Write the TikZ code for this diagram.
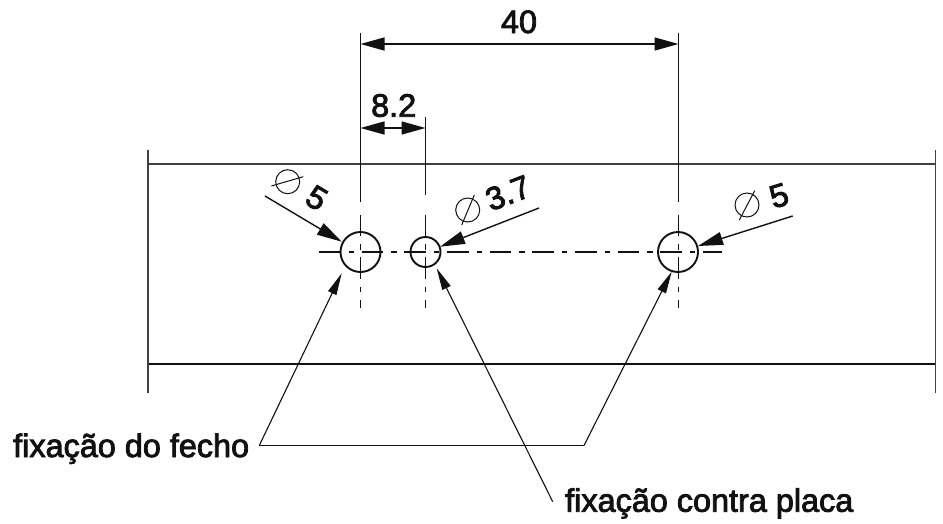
\documentclass[tikz,border=0pt]{standalone}
\usepackage{fontspec}
\setmainfont[FakeBold=2.6]{Liberation Sans}
\usetikzlibrary{arrows.meta}
\definecolor{ink}{HTML}{111111}
\tikzset{
  outline/.style={line width=1.8pt,draw=ink!80},
  thin line/.style={line width=1.4pt,draw=ink},
  hole/.style={circle,draw=ink,line width=1.9pt,inner sep=0pt},
  dia/.style={circle,draw=ink,line width=1pt,inner sep=0pt,minimum size=24pt},
  dial/.style={line width=1pt,draw=ink},
  center line/.style={line width=1.3pt,draw=ink,dash pattern=on 21.5pt off 8pt on 5.5pt off 7.67pt},
  heavy/.style={thin line,-{Triangle[length=25pt,width=13pt]}},
  heavyboth/.style={thin line,{Triangle[length=24pt,width=13pt]}-{Triangle[length=24pt,width=13pt]}},
  slim/.style={line width=1.1pt,draw=ink,-{Triangle[length=22pt,width=9pt]}},
  label/.style={inner sep=0pt,text=ink,font=\fontsize{32.4}{32.4}\selectfont},
}
\begin{document}
\begin{tikzpicture}[x=1pt,y=-1pt]
\useasboundingbox (0,0) rectangle (943,523);
% part outline
\coordinate (tl) at (148,164); \coordinate (tr) at (935.5,164);
\coordinate (bl) at (148,364); \coordinate (br) at (935.5,364);
\coordinate (ltop) at (148,150); \coordinate (lbot) at (148,393);
\coordinate (rtop) at (935.5,150); \coordinate (rbot) at (935.5,393);
\draw[outline] (tl) -- (tr);
\draw[thin line] (bl) -- (br);
\draw[outline] (ltop) -- (lbot);
\draw[outline] (rtop) -- (rbot);
% holes
\node[hole,minimum size=40pt] (h1) at (360.5,252) {};
\node[hole,minimum size=30pt] (h2) at (425.5,252) {};
\node[hole,minimum size=40pt] (h3) at (678,252) {};
% centre lines
\coordinate (cl) at (319,252); \coordinate (cr) at (722,252);
\draw[center line] (cl) -- (cr);
\foreach \n/\x/\t/\e in {a/360.5/33/202,b/425.5/117/194.5,c/678.5/33/202}{
  \coordinate (\n top) at (\x,\t); \coordinate (\n end) at (\x,\e);
  \coordinate (\n s) at (\x,214.5); \coordinate (\n f) at (\x,308);
  \draw[thin line] (\n top) -- (\n end);
  \draw[center line] (\n s) -- (\n f);
}
% dimensions
\coordinate (d40a) at (360.5,44); \coordinate (d40b) at (678.5,44);
\draw[heavyboth] (d40a) -- (d40b);
\coordinate (d8a) at (360.5,128); \coordinate (d8b) at (425.5,128);
\draw[heavyboth] (d8a) -- (d8b);
\node[label,anchor=base] (t40) at (519,33) {40};
\node[label,anchor=base] (t82) at (393.7,116.7) {8.2};
% diameter leaders
\coordinate (l1s) at (265,196); \coordinate (l1e) at (341.7,241.7);
\draw[heavy] (l1s) -- (l1e);
\coordinate (l2s) at (539,208); \coordinate (l2e) at (440,246.7);
\draw[heavy] (l2s) -- (l2e);
\coordinate (l3s) at (792.7,216); \coordinate (l3e) at (698,246);
\draw[heavy] (l3s) -- (l3e);
\node[label,rotate=-31] (t5a) at (316.7,198) {5};
\node[label,rotate=21] (t37) at (508,193) {3.7};
\node[label,rotate=17] (t5b) at (779,195.7) {5};
% diameter signs
\node[dia] (s1) at (287.7,181.7) {};
\coordinate (s1a) at (271.3,186); \coordinate (s1b) at (303.3,176.7);
\draw[dial] (s1a) -- (s1b);
\node[dia] (s2) at (467.7,210) {};
\coordinate (s2a) at (461.7,225); \coordinate (s2b) at (474.3,195);
\draw[dial] (s2a) -- (s2b);
\node[dia] (s3) at (747,205) {};
\coordinate (s3a) at (739.3,220); \coordinate (s3b) at (754.7,190.7);
\draw[dial] (s3a) -- (s3b);
% notes
\node[label,anchor=base west] (nf) at (13,457) {fixação do fecho};
\node[label,anchor=base west] (nc) at (565,511.7) {fixação contra placa};
\coordinate (k1) at (259.3,445.5); \coordinate (k2) at (584,445.5);
\coordinate (t1) at (341.7,273.3); \coordinate (t2) at (671.7,271.7);
\draw[line width=1.1pt,draw=ink] (k1) -- (k2);
\draw[slim] (k1) -- (t1);
\draw[slim] (k2) -- (t2);
\coordinate (k3) at (552.7,501.7); \coordinate (t3) at (436.7,268.3);
\draw[slim] (k3) -- (t3);
\end{tikzpicture}
\end{document}
